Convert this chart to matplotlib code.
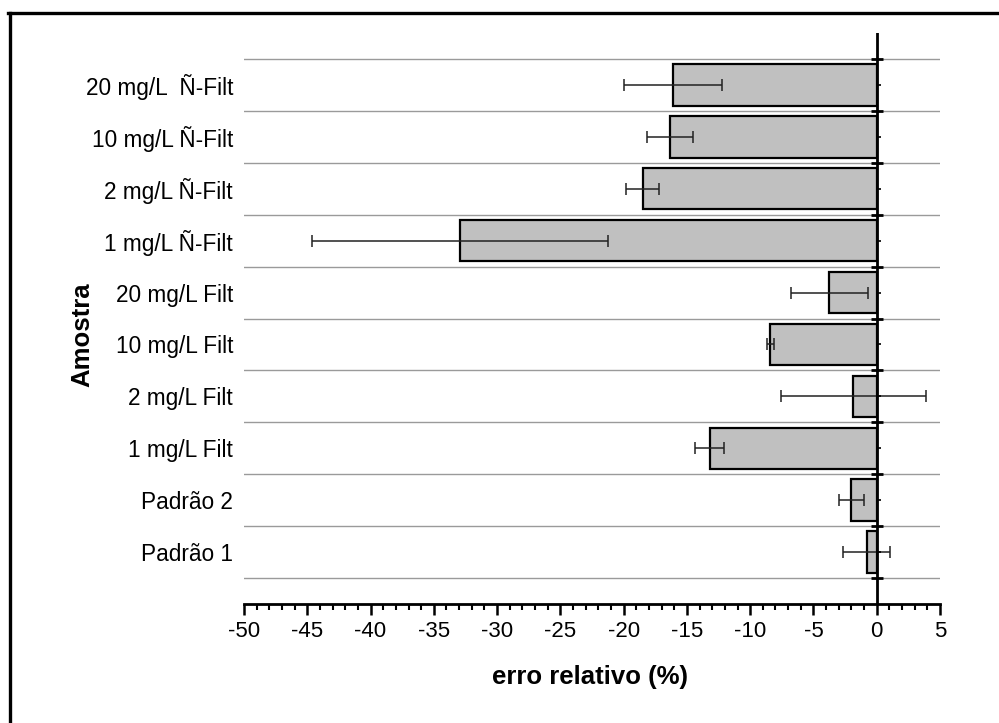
import matplotlib
matplotlib.use("Agg")
import matplotlib.pyplot as plt
import numpy as np
from matplotlib.lines import Line2D
from matplotlib.ticker import MultipleLocator, FixedLocator

plt.rcParams['font.family'] = ['Liberation Sans', 'DejaVu Sans']
plt.rcParams['axes.unicode_minus'] = False

# Data (bottom to top)
categories = ["Padrão 1", "Padrão 2", "1 mg/L Filt", "2 mg/L Filt", "10 mg/L Filt",
              "20 mg/L Filt", "1 mg/L Ñ-Filt", "2 mg/L Ñ-Filt", "10 mg/L Ñ-Filt",
              "20 mg/L  Ñ-Filt"]
values = [-0.8, -2.0, -13.2, -1.85, -8.4, -3.75, -32.9, -18.5, -16.35, -16.1]
errors = [1.85, 0.97, 1.13, 5.75, 0.28, 3.05, 11.7, 1.3, 1.8, 3.85]

xmin, xmax = -50, 5

fig = plt.figure(figsize=(9.99, 7.23), dpi=100)
ax = fig.add_axes([244/999, 1-604/723, 696/999, 571/723])

pos = np.arange(len(categories))
ax.barh(pos, values, height=0.8, color='#C0C0C0', edgecolor='black', linewidth=1.6,
        xerr=errors, error_kw=dict(ecolor='#222222', elinewidth=1.1, capsize=4.5, capthick=1.1),
        zorder=3)

ax.set_xlim(xmin, xmax)
ax.set_ylim(-1, len(categories))

# gridlines at category boundaries
bounds = np.arange(len(categories) + 1) - 0.5
ax.yaxis.set_major_locator(FixedLocator(bounds))
ax.set_yticklabels([])
ax.tick_params(axis='y', which='major', length=0)
ax.grid(axis='y', which='major', color='#9a9a9a', linewidth=1.0, zorder=0)
ax.set_axisbelow(True)
# category labels on minor ticks
ax.set_yticks(pos, minor=True)
ax.set_yticklabels(categories, minor=True, fontsize=16.3)
ax.tick_params(axis='y', which='minor', length=0, pad=8)

for s in ['top', 'right', 'left']:
    ax.spines[s].set_visible(False)
ax.spines['bottom'].set_linewidth(2)

ax.xaxis.set_major_locator(MultipleLocator(5))
ax.xaxis.set_minor_locator(MultipleLocator(1))
ax.tick_params(axis='x', which='major', direction='out', length=8, width=1.8, labelsize=16, pad=4)
ax.tick_params(axis='x', which='minor', direction='out', length=4.5, width=1.5)

# zero axis line
ax.axvline(0, color='black', linewidth=2, zorder=6)

# zero axis ticks
loc = (0 - xmin) / (xmax - xmin)
sec = ax.secondary_yaxis(loc)
for s in sec.spines.values():
    s.set_visible(False)
sec.yaxis.set_major_locator(FixedLocator(bounds))
sec.yaxis.set_minor_locator(FixedLocator(pos))
sec.set_yticklabels([])
sec.tick_params(axis='y', which='major', direction='inout', length=9, width=2,
                labelleft=False, labelright=False)
sec.tick_params(axis='y', which='minor', direction='out', length=3, width=1.2,
                labelleft=False, labelright=False)
sec.set_zorder(5)

fig.text(590/999, 1-677/723, "erro relativo (%)", fontsize=18.5, fontweight='bold',
         ha='center', va='center')
fig.text(82/999, 1-335/723, "Amostra", fontsize=18.5, fontweight='bold',
         rotation=90, ha='center', va='center')

# outer frame (cut off at right and bottom)
fig.add_artist(Line2D([8/999, 1.0], [1-12.5/723, 1-12.5/723], transform=fig.transFigure,
                      color='black', linewidth=2.4))
fig.add_artist(Line2D([9.5/999, 9.5/999], [0.0, 1-12.5/723], transform=fig.transFigure,
                      color='black', linewidth=2.4))

fig.savefig("out.png", dpi=100)
